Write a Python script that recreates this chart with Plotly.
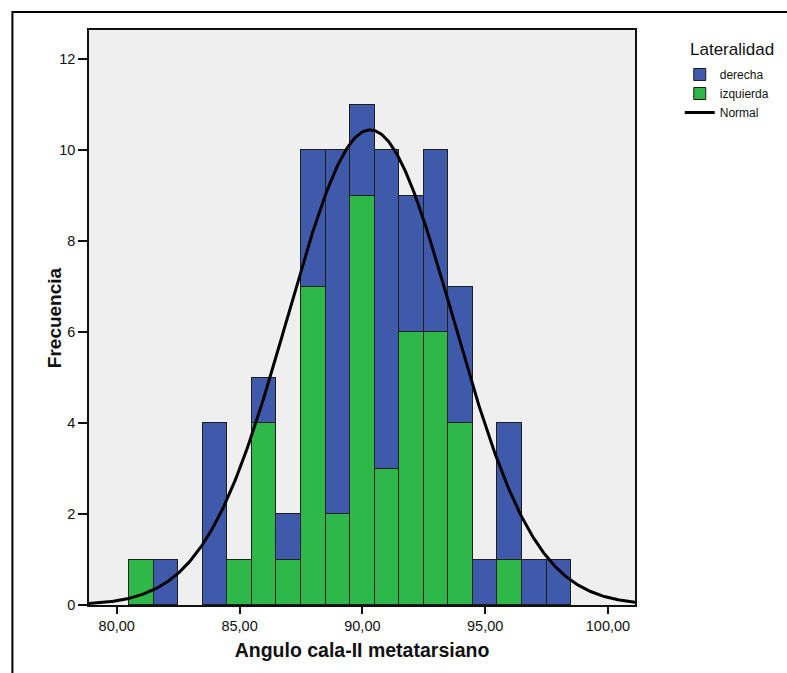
import numpy as np
import plotly.graph_objects as go

# Histogram bins (bin centres, width 1 degree)
bin_centres = [81, 82, 83, 84, 85, 86, 87, 88, 89, 90, 91, 92, 93, 94, 95, 96, 97, 98]
derecha =     [0, 1, 0, 4, 0, 1, 1, 3, 8, 2, 7, 3, 4, 3, 1, 3, 1, 1]
izquierda =   [1, 0, 0, 0, 1, 4, 1, 7, 2, 9, 3, 6, 6, 4, 0, 1, 0, 0]

x_ticks = [80, 85, 90, 95, 100]
y_ticks = [0, 2, 4, 6, 8, 10, 12]

BLUE = "#3f59ab"
GREEN = "#2fb84a"
EDGE = "#1e1e1e"

# Normal curve fitted to the pooled sample
totals = np.array(derecha) + np.array(izquierda)
centres = np.array(bin_centres, dtype=float)
n = totals.sum()
mean = (centres * totals).sum() / n
sd = np.sqrt(((centres - mean) ** 2 * totals).sum() / (n - 1))
xs = np.linspace(78.8, 101.2, 400)
ys = n * 1.0 / (sd * np.sqrt(2 * np.pi)) * np.exp(-0.5 * ((xs - mean) / sd) ** 2)


def nz(vals):
    return [v if v else None for v in vals]


fig = go.Figure()
fig.add_trace(go.Bar(
    x=bin_centres, y=nz(izquierda), width=1, name="izquierda", legendrank=2,
    marker=dict(color=GREEN, line=dict(color=EDGE, width=1)),
))
fig.add_trace(go.Bar(
    x=bin_centres, y=nz(derecha), width=1, name="derecha", legendrank=1,
    marker=dict(color=BLUE, line=dict(color=EDGE, width=1)),
))
fig.add_trace(go.Scatter(
    x=xs, y=ys, mode="lines", name="Normal", legendrank=3,
    line=dict(color="black", width=3),
))

# plot area in pixels: left 89, right 638, top 30, bottom 605
L, R, T, B = 89, 638, 30, 605
W, H = 787, 673


def px_x(p):
    return (p - L) / (R - L)


def px_y(p):
    return (B - p) / (B - T)


fig.update_layout(
    width=W, height=H,
    margin=dict(l=L, r=W - R, t=T, b=H - B, pad=0),
    paper_bgcolor="white",
    plot_bgcolor="#efefef",
    barmode="stack",
    bargap=0,
    separators=",.",
    font=dict(family="Liberation Sans, Arial, sans-serif", color="#111111", size=12),
    showlegend=True,
    legend=dict(
        x=px_x(683), y=px_y(60), xanchor="left", yanchor="top",
        traceorder="normal",
        font=dict(size=12),
        bgcolor="rgba(0,0,0,0)",
        tracegroupgap=0,
        itemwidth=30,
    ),
    annotations=[
        dict(text="Lateralidad", xref="paper", yref="paper",
             x=px_x(691), y=px_y(49), xanchor="left", yanchor="middle",
             showarrow=False, font=dict(size=17)),
        dict(text="<b>Frecuencia</b>", xref="paper", yref="paper",
             x=px_x(54), y=px_y(318), xanchor="center", yanchor="middle",
             textangle=-90, showarrow=False, font=dict(size=19)),
    ],
    shapes=[
        dict(type="rect", xref="paper", yref="paper",
             x0=px_x(12), x1=px_x(800), y0=px_y(12), y1=px_y(690),
             line=dict(color="black", width=2), fillcolor="rgba(0,0,0,0)", layer="below"),
    ],
)

fig.update_xaxes(
    range=[78.87, 101.1],
    tickvals=x_ticks, tickformat=".2f",
    ticks="outside", ticklen=7, tickwidth=1.5, tickcolor="#111111",
    showgrid=False, zeroline=False,
    showline=True, linecolor="#111111", linewidth=1.5, mirror=True,
    tickfont=dict(size=14.5),
    title=dict(text="<b>Angulo cala-II metatarsiano</b>", font=dict(size=19.5), standoff=10),
)
fig.update_yaxes(
    range=[0, 12.64],
    tickvals=y_ticks,
    ticks="outside", ticklen=9, tickwidth=1.5, tickcolor="#111111",
    showgrid=False, zeroline=False,
    showline=True, linecolor="#111111", linewidth=1.5, mirror=True,
    tickfont=dict(size=14.5),
)

fig.write_html("out.html")
